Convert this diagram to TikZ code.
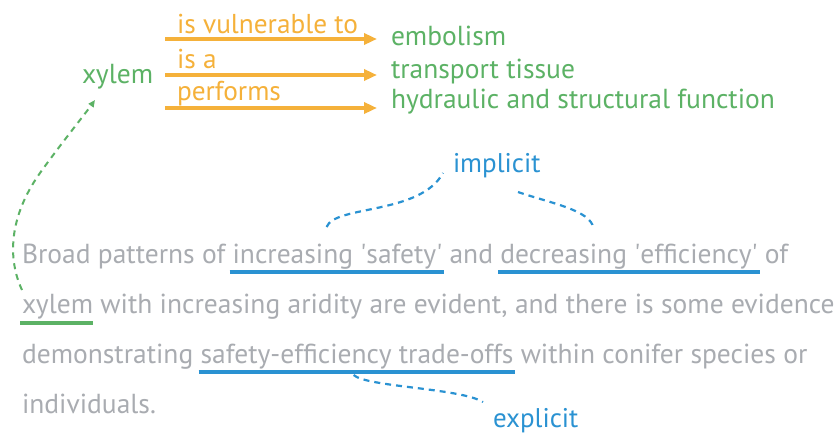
\documentclass[tikz,border=0pt]{standalone}
\usepackage{fontspec}
\setmainfont{PT Sans}
\usetikzlibrary{arrows.meta,calc}
\definecolor{cOrange}{HTML}{F5B13A}
\definecolor{cGreen}{HTML}{5CB265}
\definecolor{cBlue}{HTML}{2A92D2}
\definecolor{cGray}{HTML}{A9ACB1}
\begin{document}
\begin{tikzpicture}[x=1pt,y=-1pt,
  txt/.style={inner sep=0pt, outer sep=0pt, anchor=base west, font=\fontsize{27.5}{28}\selectfont},
  greentxt/.style={txt, text=cGreen},
  orangetxt/.style={txt, text=cOrange, font=\fontsize{27.3}{28}\selectfont},
  bluetxt/.style={txt, text=cBlue, font=\fontsize{27}{28}\selectfont},
  body/.style={txt, text=cGray},
  relarrow/.style={draw=cOrange, line width=4pt, -{Triangle[length=13pt,width=11pt]}},
  bluebar/.style={draw=cBlue, line width=4pt},
  greenbar/.style={draw=cGreen, line width=4pt},
  bluedash/.style={draw=cBlue, line width=2.2pt, dash pattern=on 6pt off 5pt},
  greendash/.style={draw=cGreen, line width=2pt, dash pattern=on 6pt off 5pt, -{Triangle[length=7pt,width=6pt]}}
]
\useasboundingbox[fill=white] (0,0) rectangle (837,437);

% concept map at top
\node[greentxt] (xylemTop) at (82,83) {xylem};
\node[greentxt] (emb) at (391,45) {embolism};
\node[greentxt] (trans) at (391,78) {transport tissue};
\node[greentxt] (hyd) at (391,108) {hydraulic and structural function};

\node[orangetxt] (lvul) at (177,33) {is vulnerable to};
\node[orangetxt] (lisa) at (177,68) {is a};
\node[orangetxt] (lperf) at (177,100) {performs};

\draw[relarrow] ($(xylemTop.base east)+(12,-44)$) -- ($(emb.base west)+(-14,-6)$);
\draw[relarrow] ($(xylemTop.base east)+(12,-8)$) -- ($(trans.base west)+(-14,-3)$);
\draw[relarrow] ($(xylemTop.base east)+(12,25)$) -- ($(hyd.base west)+(-14,0)$);

% body text
\node[body] (b1a) at (22,263) {Broad patterns of~\null};
\node[body] (b1b) at (b1a.base east) {increasing \textquotesingle safety\textquotesingle};
\node[body] (b1c) at (b1b.base east) {~and~\null};
\node[body] (b1d) at (b1c.base east) {decreasing \textquotesingle efficiency\textquotesingle};
\node[body] (b1e) at (b1d.base east) {~of};

\node[body] (b2a) at (22,313) {xylem};
\node[body] (b2b) at (b2a.base east) {~with increasing aridity are evident, and there is some evidence};

\node[body] (b3a) at (22,363) {demonstrating~\null};
\node[body] (b3b) at (b3a.base east) {safety-efficiency trade-offs};
\node[body] (b3c) at (b3b.base east) {~within conifer species or};

\node[body] (b4) at (22,413) {individuals.};

% underlines
\draw[bluebar] ($(b1b.base west)+(-3,9)$) -- ($(b1b.base east)+(2,9)$);
\draw[bluebar] ($(b1d.base west)+(-2,9)$) -- ($(b1d.base east)+(2,9)$);
\draw[greenbar] ($(b2a.base west)+(-2,10)$) -- ($(b2a.base east)+(0,10)$);
\draw[bluebar] ($(b3b.base west)+(-2,9)$) -- ($(b3b.base east)+(2,9)$);

% implicit / explicit labels
\node[bluetxt] (impl) at (453,172) {implicit};
\node[bluetxt] (expl) at (493,427) {explicit};

\draw[bluedash] ($(b1b.base west)+(94,-36)$) .. controls +(8,-22) and +(-23,42) .. ($(impl.base west)+(-10,1)$);
\draw[bluedash] ($(impl.base west)+(65,20)$) .. controls +(32,11) and +(-3,-18) .. ($(b1d.base west)+(93,-35)$);
\draw[bluedash] ($(b3b.base west)+(153,12)$) .. controls +(13,12) and +(-23,-14) .. ($(expl.base west)+(-10,-25)$);

% green link from body xylem to concept xylem
\draw[greendash] ($(b2a.base west)+(0,-23)$) .. controls +(-14,-30) and +(-32,45) .. ($(b2a.base west)+(18,-140)$)
   .. controls +(20,-28) and +(-10,14) .. ($(xylemTop.base west)+(13,17)$);
\end{tikzpicture}
\end{document}
